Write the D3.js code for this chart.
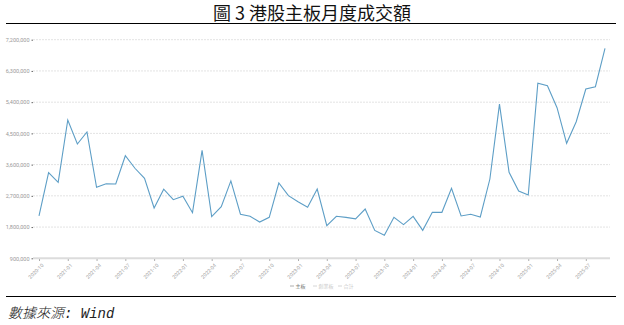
<!DOCTYPE html>
<html>
<head>
<meta charset="utf-8">
<script src="https://cdn.jsdelivr.net/npm/d3@7/dist/d3.min.js"></script>
<style>
  body { margin: 0; background: #fff; }
  svg { display: block; }
</style>
</head>
<body>
<div id="chart"></div>
<script>
'use strict';

// DATA
var months = [
  '2020-10', '2020-11', '2020-12',
  '2021-01', '2021-02', '2021-03', '2021-04', '2021-05', '2021-06',
  '2021-07', '2021-08', '2021-09', '2021-10', '2021-11', '2021-12',
  '2022-01', '2022-02', '2022-03', '2022-04', '2022-05', '2022-06',
  '2022-07', '2022-08', '2022-09', '2022-10', '2022-11', '2022-12',
  '2023-01', '2023-02', '2023-03', '2023-04', '2023-05', '2023-06',
  '2023-07', '2023-08', '2023-09', '2023-10', '2023-11', '2023-12',
  '2024-01', '2024-02', '2024-03', '2024-04', '2024-05', '2024-06',
  '2024-07', '2024-08', '2024-09', '2024-10', '2024-11', '2024-12',
  '2025-01', '2025-02', '2025-03', '2025-04', '2025-05', '2025-06',
  '2025-07', '2025-08', '2025-09'
];

var mainBoard = [
  2120000, 3370000, 3090000,
  4885000, 4195000, 4540000, 2945000, 3050000, 3040000,
  3855000, 3495000, 3205000, 2350000, 2890000, 2590000,
  2690000, 2215000, 4010000, 2100000, 2390000, 3130000,
  2170000, 2110000, 1945000, 2080000, 3070000, 2705000,
  2530000, 2370000, 2895000, 1840000, 2110000, 2080000,
  2035000, 2320000, 1705000, 1565000, 2080000, 1870000,
  2110000, 1705000, 2225000, 2225000, 2915000, 2120000,
  2170000, 2090000, 3185000, 5345000, 3380000, 2840000,
  2725000, 5945000, 5875000, 5240000, 4215000, 4835000,
  5780000, 5845000, 6950000
];

var xTickLabels = [
  '2020-10', '2021-01', '2021-04', '2021-07', '2021-10',
  '2022-01', '2022-04', '2022-07', '2022-10',
  '2023-01', '2023-04', '2023-07', '2023-10',
  '2024-01', '2024-04', '2024-07', '2024-10',
  '2025-01', '2025-04', '2025-07'
];

var yTicks = [900000, 1800000, 2700000, 3600000, 4500000, 5400000, 6300000, 7200000];

var legendNames = ['主板', '創業板', '合計'];

// STAGE
var stage = { width: 624, height: 325 };
var plot = { left: 33, right: 610, top: 39.7, bottom: 258.3 };

var svg = d3.select('#chart')
  .append('svg')
  .attr('width', stage.width)
  .attr('height', stage.height)
  .attr('xmlns', 'http://www.w3.org/2000/svg');

var x = d3.scalePoint()
  .domain(months)
  .range([39, 605]);

var y = d3.scaleLinear()
  .domain([900000, 7200000])
  .range([plot.bottom, plot.top]);

// TITLE
svg.append('text')
  .attr('x', 312)
  .attr('y', 19.5)
  .attr('text-anchor', 'middle')
  .style('font-family', '"Noto Sans CJK TC", "Noto Sans CJK SC", sans-serif')
  .style('font-size', '18px')
  .style('fill', '#111')
  .style('white-space', 'pre')
  .text('圖 3 港股主板月度成交額');

svg.append('line')
  .attr('x1', 6).attr('x2', 616)
  .attr('y1', 23.5).attr('y2', 23.5)
  .attr('stroke', '#000')
  .attr('stroke-width', 1.2);

// GRID LINES
svg.append('g')
  .attr('class', 'grid')
  .selectAll('line')
  .data(yTicks.slice(1)).enter()
  .append('line')
  .attr('x1', plot.left)
  .attr('x2', plot.right)
  .attr('y1', function(d) { return y(d); })
  .attr('y2', function(d) { return y(d); })
  .attr('stroke', '#e3e3e3')
  .attr('stroke-width', 1)
  .attr('stroke-dasharray', '2,1');

// Y AXIS
var yAxis = svg.append('g')
  .attr('transform', 'translate(' + plot.left + ',0)')
  .call(d3.axisLeft(y)
    .tickValues(yTicks)
    .tickSize(1.5)
    .tickPadding(2)
    .tickFormat(d3.format(',')));

yAxis.select('.domain').remove();
yAxis.selectAll('.tick line').attr('stroke', '#666');
yAxis.selectAll('.tick text')
  .style('font-family', 'Roboto, sans-serif')
  .style('font-size', '5.5px')
  .style('fill', '#999');

// X AXIS
svg.append('line')
  .attr('x1', plot.left)
  .attr('x2', plot.right)
  .attr('y1', plot.bottom)
  .attr('y2', plot.bottom)
  .attr('stroke', '#dcdcdc')
  .attr('stroke-width', 2);

var xAxis = svg.append('g')
  .attr('transform', 'translate(0,' + (plot.bottom + 1) + ')')
  .call(d3.axisBottom(x)
    .tickValues(xTickLabels)
    .tickSize(1.5)
    .tickPadding(2));

xAxis.select('.domain').remove();
xAxis.selectAll('.tick line').attr('stroke', '#999');
xAxis.selectAll('.tick text')
  .style('font-family', 'Roboto, sans-serif')
  .style('font-size', '5.2px')
  .style('fill', '#a0a0a0')
  .attr('text-anchor', 'end')
  .attr('dy', 0)
  .attr('transform', 'translate(2,4) rotate(-45)');

// MAIN BOARD LINE
var line = d3.line()
  .x(function(d, i) { return x(months[i]); })
  .y(function(d) { return y(d); });

svg.append('path')
  .datum(mainBoard)
  .attr('d', line)
  .attr('fill', 'none')
  .attr('stroke', '#5d9ec6')
  .attr('stroke-width', 1.1)
  .attr('stroke-linejoin', 'miter');

// LEGEND
var legendX = [290, 313, 338];
var legend = svg.append('g')
  .attr('class', 'legend')
  .selectAll('g')
  .data(legendNames).enter()
  .append('g')
  .attr('transform', function(d, i) {
    return 'translate(' + legendX[i] + ',286)';
  });

legend.append('line')
  .attr('x1', 0).attr('x2', 4)
  .attr('y1', 0).attr('y2', 0)
  .attr('stroke', function(d, i) { return i === 0 ? '#999' : '#ccc'; })
  .attr('stroke-width', 0.8);

legend.append('text')
  .attr('x', 5.5)
  .attr('y', 1.8)
  .style('font-family', '"Noto Sans CJK TC", sans-serif')
  .style('font-size', '5px')
  .style('fill', function(d, i) { return i === 0 ? '#777' : '#ccc'; })
  .text(function(d) { return d; });

// FOOTER
svg.append('line')
  .attr('x1', 6).attr('x2', 616)
  .attr('y1', 296.5).attr('y2', 296.5)
  .attr('stroke', '#000')
  .attr('stroke-width', 1.2);

var footer = svg.append('text')
  .attr('x', 8)
  .attr('y', 318)
  .style('font-size', '14px')
  .style('font-style', 'italic')
  .style('fill', '#222')
  .style('white-space', 'pre');

footer.append('tspan')
  .style('font-family', '"Noto Sans CJK TC", sans-serif')
  .style('font-weight', 300)
  .text('數據來源');

footer.append('tspan')
  .style('font-family', '"Liberation Mono", "DejaVu Sans Mono", monospace')
  .text(': Wind');
</script>
</body>
</html>
